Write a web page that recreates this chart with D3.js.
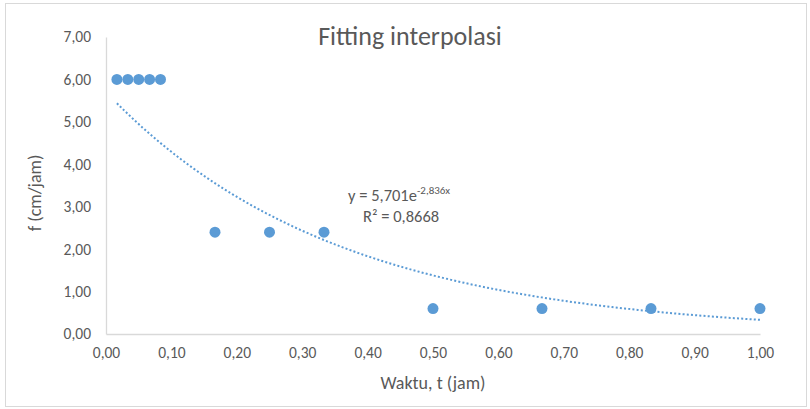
<!DOCTYPE html>
<html>
<head>
<meta charset="utf-8">
<script src="https://cdn.jsdelivr.net/npm/d3@7"></script>
<style>
  html, body { margin: 0; padding: 0; background: #fff; }
  svg { display: block; }
  text { font-family: Carlito, Lato, "Open Sans", sans-serif; fill: #595959; }
</style>
</head>
<body>
<svg id="chart" width="810" height="409"></svg>
<script>
// Observed infiltration rate f (cm/jam) against time t (jam)
const timeJam = [1/60, 2/60, 3/60, 4/60, 5/60, 10/60, 15/60, 20/60, 30/60, 40/60, 50/60, 60/60];
const fValues = [6, 6, 6, 6, 6, 2.4, 2.4, 2.4, 0.6, 0.6, 0.6, 0.6];

// Exponential trendline y = a·e^(b·x) and its R²
const fitA = 5.701;
const fitB = -2.836;
const fitR2 = "0,8668";

const xTicks = [0, 0.1, 0.2, 0.3, 0.4, 0.5, 0.6, 0.7, 0.8, 0.9, 1.0];
const yTicks = [0, 1, 2, 3, 4, 5, 6, 7];

const svg = d3.select("#chart");
const W = 810, H = 409;
const margin = { left: 106, right: 50, top: 37, bottom: 75 };
const FONT = "Carlito, Lato, 'Open Sans', sans-serif";

const fmt = v => d3.format(".2f")(v).replace(".", ",");

// Chart frame
svg.append("rect")
  .attr("x", 5.5).attr("y", 3.5)
  .attr("width", W - 9).attr("height", H - 6)
  .attr("fill", "#fff").attr("stroke", "#d9d9d9").attr("stroke-width", 1);

const x = d3.scaleLinear().domain([0, 1]).range([margin.left, W - margin.right]);
const y = d3.scaleLinear().domain([0, 7]).range([H - margin.bottom, margin.top]);

// X axis
const xAxis = svg.append("g")
  .attr("transform", `translate(0,${y(0)})`)
  .call(d3.axisBottom(x).tickValues(xTicks).tickFormat(fmt).tickSize(0).tickPadding(13));
xAxis.select(".domain").attr("stroke", "#d9d9d9").attr("stroke-width", 1.3);
xAxis.selectAll("text").attr("font-size", 15.5).style("fill", "#595959").style("font-family", FONT);

// Y axis
const yAxis = svg.append("g")
  .attr("transform", `translate(${x(0)},0)`)
  .call(d3.axisLeft(y).tickValues(yTicks).tickFormat(fmt).tickSize(0).tickPadding(15));
yAxis.select(".domain").attr("stroke", "#d9d9d9").attr("stroke-width", 1.3);
yAxis.selectAll("text").attr("font-size", 15.5).style("fill", "#595959").style("font-family", FONT);

// Trendline over the observed time span
const t0 = d3.min(timeJam), t1 = d3.max(timeJam);
const trend = d3.range(0, 101).map(i => {
  const t = t0 + (t1 - t0) * i / 100;
  return [t, fitA * Math.exp(fitB * t)];
});
svg.append("path")
  .datum(trend)
  .attr("fill", "none")
  .attr("stroke", "#5b9bd5")
  .attr("stroke-width", 2)
  .attr("stroke-dasharray", "2,2.2")
  .attr("d", d3.line().x(d => x(d[0])).y(d => y(d[1])));

// Observation markers
svg.append("g").selectAll("circle")
  .data(timeJam.map((t, i) => [t, fValues[i]]))
  .join("circle")
  .attr("cx", d => x(d[0]))
  .attr("cy", d => y(d[1]))
  .attr("r", 5.5)
  .attr("fill", "#5b9bd5");

// Title
svg.append("text")
  .attr("x", 410).attr("y", 45)
  .attr("text-anchor", "middle")
  .attr("font-size", 26)
  .text("Fitting interpolasi");

// Axis titles
svg.append("text")
  .attr("x", 433).attr("y", 389)
  .attr("text-anchor", "middle")
  .attr("font-size", 18)
  .text("Waktu, t (jam)");

svg.append("text")
  .attr("transform", "translate(41,193) rotate(-90)")
  .attr("text-anchor", "middle")
  .attr("font-size", 18)
  .text("f (cm/jam)");

// Trendline equation
const eq = svg.append("text")
  .attr("x", 348).attr("y", 201)
  .attr("font-size", 16.5);
eq.append("tspan").text("y = " + String(fitA).replace(".", ",") + "e");
eq.append("tspan").attr("dy", -7).attr("font-size", 11)
  .text(String(fitB).replace(".", ",") + "x");

const r2 = svg.append("text")
  .attr("x", 363).attr("y", 222)
  .attr("font-size", 16.5);
r2.append("tspan").text("R² = " + fitR2);
</script>
</body>
</html>
